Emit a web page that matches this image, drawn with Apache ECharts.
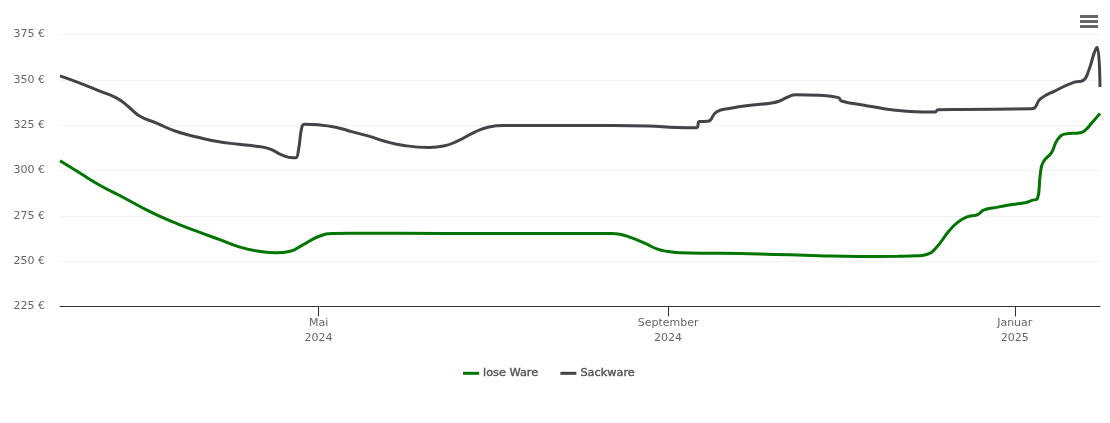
<!DOCTYPE html>
<html>
<head>
<meta charset="utf-8">
<style>
	html, body { margin: 0; padding: 0; background: #fff; }
	#chart { width: 1110px; height: 423px; }
</style>
<script src="https://cdn.jsdelivr.net/npm/echarts@6/dist/echarts.min.js"></script>
</head>
<body>
<div id="chart"></div>
<script>
const looseDates = ['2024-01-31', '2024-02-07', '2024-02-14', '2024-02-21', '2024-02-28', '2024-03-06', '2024-03-13', '2024-03-20', '2024-03-27', '2024-04-03', '2024-04-10', '2024-04-16', '2024-04-21', '2024-04-25', '2024-05-01', '2024-05-06', '2024-05-12', '2024-06-15', '2024-07-15', '2024-08-12', '2024-08-15', '2024-08-19', '2024-08-24', '2024-08-28', '2024-09-01', '2024-09-05', '2024-10-03', '2024-10-24', '2024-11-07', '2024-11-21', '2024-11-28', '2024-12-01', '2024-12-04', '2024-12-09', '2024-12-12', '2024-12-15', '2024-12-19', '2024-12-21', '2024-12-26', '2024-12-31', '2025-01-05', '2025-01-07', '2025-01-09', '2025-01-10', '2025-01-11', '2025-01-14', '2025-01-16', '2025-01-19', '2025-01-24', '2025-01-26', '2025-01-28', '2025-01-31'];
const looseValues = [305.4, 298.6, 291.9, 286.2, 280.3, 274.8, 270.2, 266, 262, 257.9, 255.5, 254.6, 255.5, 258.6, 263.6, 265.3, 265.4, 265.3, 265.3, 265.3, 264.9, 263, 259.8, 256.8, 255.3, 254.7, 254, 253, 252.6, 252.7, 253, 253.7, 256.8, 266.9, 271.5, 274.3, 275.7, 278.1, 279.8, 281.2, 282.4, 283.5, 284.6, 298, 304.6, 310, 316.9, 320.2, 320.8, 322.5, 326, 331.5];

const sackDates = ['2024-01-31', '2024-02-07', '2024-02-14', '2024-02-20', '2024-02-24', '2024-02-28', '2024-03-05', '2024-03-12', '2024-03-20', '2024-03-27', '2024-04-03', '2024-04-09', '2024-04-14', '2024-04-18', '2024-04-22', '2024-04-23', '2024-04-24', '2024-04-25', '2024-04-26', '2024-05-01', '2024-05-07', '2024-05-13', '2024-05-19', '2024-05-24', '2024-05-31', '2024-06-09', '2024-06-14', '2024-06-19', '2024-06-25', '2024-06-30', '2024-07-05', '2024-07-31', '2024-08-25', '2024-09-04', '2024-09-11', '2024-09-12', '2024-09-15', '2024-09-18', '2024-09-23', '2024-09-30', '2024-10-07', '2024-10-10', '2024-10-13', '2024-10-16', '2024-10-24', '2024-10-31', '2024-11-01', '2024-11-09', '2024-11-16', '2024-11-23', '2024-11-30', '2024-12-04', '2024-12-05', '2024-12-13', '2025-01-07', '2025-01-10', '2025-01-15', '2025-01-22', '2025-01-25', '2025-01-27', '2025-01-29', '2025-01-30', '2025-01-31'];
const sackValues = [352.2, 348.2, 343.8, 339.9, 335.3, 330.1, 326.1, 321.5, 318.2, 315.8, 314.5, 313.4, 311.8, 308.6, 307, 307, 312, 323, 325.5, 325.2, 323.9, 321.3, 318.8, 316.3, 313.8, 312.7, 313.5, 316.3, 321.2, 324, 324.8, 324.8, 324.6, 323.7, 323.6, 327, 327.1, 332.3, 334.3, 336, 337.1, 338.2, 340.4, 341.8, 341.5, 340.2, 338.3, 336, 334.1, 332.8, 332.3, 332.3, 333.5, 333.7, 334, 339.5, 343.8, 348.7, 349.6, 355, 365, 368, 346];

const tickDates = ['2024-05-01', '2024-09-01', '2025-01-01'];
const monthNames = ['Januar', 'Februar', 'März', 'April', 'Mai', 'Juni', 'Juli', 'August', 'September', 'Oktober', 'November', 'Dezember'];

const font = '"DejaVu Sans", sans-serif';
const toTime = d => Date.UTC(+d.slice(0, 4), +d.slice(5, 7) - 1, +d.slice(8, 10));
const tickValues = tickDates.map(toTime);
const toPoints = (dates, values) => dates.map((d, i) => [toTime(d), values[i]]);

const chart = echarts.init(document.getElementById('chart'));

chart.setOption({
	animation: false,
	color: ['#007500', '#434348'],
	grid: { left: 60, right: 10, top: 34.5, bottom: 116.5 },
	legend: {
		bottom: 39,
		left: 458,
		itemWidth: 16,
		itemHeight: 3,
		itemGap: 22,
		icon: 'rect',
		textStyle: {
			color: '#555',
			fontFamily: font,
			fontSize: 11.3,
			textBorderColor: '#555',
			textBorderWidth: 0.4,
			padding: [0, 0, 0, -1]
		}
	},
	toolbox: {
		right: -3,
		top: -2.5,
		itemSize: 18,
		feature: {
			myMenu: {
				show: true,
				title: '',
				icon: 'path://M0,-2.5L0,-2.5ZM0,15.5L0,15.5ZM0,0H18V3H0ZM0,5H18V8H0ZM0,10H18V13H0Z',
				onclick: function () {}
			}
		},
		iconStyle: { color: '#666', borderColor: '#666', borderWidth: 0 }
	},
	xAxis: {
		type: 'value',
		min: toTime('2024-01-31'),
		max: toTime('2025-01-31'),
		axisLine: { onZero: false, lineStyle: { color: '#333', width: 1 } },
		axisTick: { customValues: tickValues, length: 10, lineStyle: { color: '#333' } },
		splitLine: { show: false },
		axisLabel: {
			customValues: tickValues,
			color: '#666',
			fontFamily: font,
			fontSize: 11,
			lineHeight: 15,
			margin: 9,
			formatter: function (val) {
				const d = new Date(val);
				return monthNames[d.getUTCMonth()] + '\n' + d.getUTCFullYear();
			}
		}
	},
	yAxis: {
		type: 'value',
		min: 225,
		max: 375,
		interval: 25,
		axisLine: { show: false },
		axisTick: { show: false },
		axisLabel: {
			color: '#666',
			fontFamily: font,
			fontSize: 11,
			margin: 15,
			formatter: '{value} €'
		},
		splitLine: { lineStyle: { color: '#e6e6e6', type: 'dotted', width: 1 } }
	},
	series: [
		{
			name: 'lose Ware',
			type: 'line',
			showSymbol: false,
			smooth: 0.5,
			lineStyle: { width: 3 },
			data: toPoints(looseDates, looseValues)
		},
		{
			name: 'Sackware',
			type: 'line',
			showSymbol: false,
			smooth: 0.5,
			lineStyle: { width: 3 },
			data: toPoints(sackDates, sackValues)
		}
	]
});
</script>
</body>
</html>
